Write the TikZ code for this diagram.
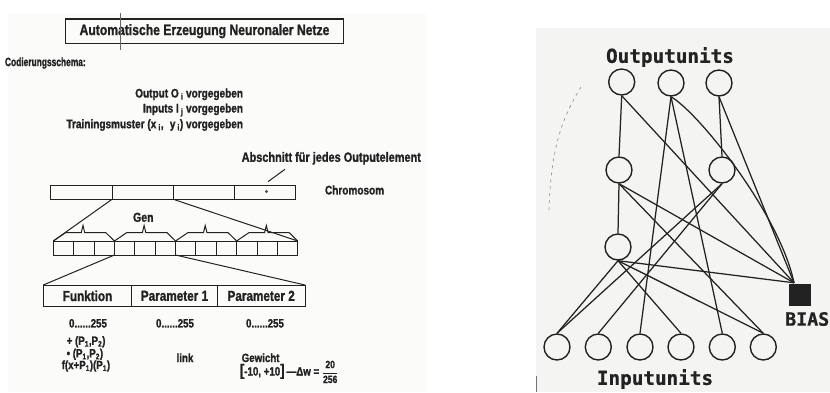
\documentclass[tikz,border=0pt]{standalone}
\usepackage{fontspec}
\setmainfont{Liberation Sans}[FakeStretch=0.81, BoldFeatures={FakeBold=1.3}]
\newfontfamily\condfont{Liberation Sans}[FakeStretch=0.7, BoldFeatures={FakeBold=1.3}]
\newfontfamily\pixfont{DejaVu Sans Mono}[BoldFeatures={FakeBold=0.8}]
\usetikzlibrary{calc}
\definecolor{ink}{HTML}{222222}
\definecolor{paperL}{HTML}{FBFBFA}
\definecolor{paperR}{HTML}{F4F4F3}

\begin{document}
\begin{tikzpicture}[x=1pt,y=-1pt,
  txt/.style={font=\bfseries\fontsize{#1}{#1}\selectfont, text=ink, inner sep=0pt, outer sep=0pt},
  txt/.default=12.4,
  boxline/.style={draw=ink, line width=0.9pt, inner sep=0pt, outer sep=0pt},
  chromcell/.style={boxline, minimum width=61.3pt, minimum height=14.3pt},
  genecell/.style={boxline, minimum width=20.37pt, minimum height=14pt},
  fieldcell/.style={boxline, minimum height=21.7pt, minimum width=#1,
                    font=\bfseries\fontsize{14.5}{14.5}\selectfont, text=ink},
  fan/.style={draw=ink, line width=1pt},
  unit/.style={circle, draw=ink, line width=1.4pt, minimum size=26pt, inner sep=0pt},
  link/.style={draw=ink, line width=1.25pt},
  pix/.style={font=\pixfont\bfseries\fontsize{#1}{#1}\selectfont, text=ink, inner sep=0pt},
  pix/.default=19.3
]
\useasboundingbox (0,0) rectangle (830,392);
\clip (0,0) rectangle (830,392);

% paper backgrounds
\fill[paperL] (8,13) rectangle (426,392);
\fill[paperR] (536,28) rectangle (830,392);
\draw[black!55, line width=0.8pt] (536.5,376) -- (536.5,392);

% ---------------- left: coding scheme ----------------
\node[boxline, line width=1.2pt, minimum width=277.6pt, minimum height=24.3pt,
      txt=15] (title) at (204.5,31.2) {Automatische Erzeugung Neuronaler Netze};
\draw[black!60, line width=0.5pt] (120.7,13) -- (120.7,50);

\node[txt, font=\condfont\bfseries\fontsize{12}{12}\selectfont, anchor=west] (cs) at (5,63) {Codierungsschema:};

\node[txt, anchor=east] (out) at (243,94.3) {Output O\,\textsubscript{i} vorgegeben};
\node[txt, anchor=east] (inp) at (243,110) {Inputs I\,\textsubscript{j} vorgegeben};
\node[txt, anchor=east] (tm) at (243,125) {Trainingsmuster (x\,\textsubscript{i},\enspace y\,\textsubscript{i}) vorgegeben};

\node[txt=13.5, anchor=west] (abs) at (241.7,158.3) {Abschnitt für jedes Outputelement};

% chromosome
\node[chromcell] (c1) at (81.35,192.15) {};
\node[chromcell] (c2) at (142.65,192.15) {};
\node[chromcell] (c3) at (203.95,192.15) {};
\node[chromcell] (c4) at (265.25,192.15) {};
\fill[ink!80] (266.5,191.5) circle (1.6pt);
\coordinate (ptrA) at (285,169.3);
\coordinate (ptrB) at (268,181.7);
\draw[fan] (ptrA) -- (ptrB);
\node[txt, anchor=west] (chrom) at (325,190) {Chromosom};

% genes
\foreach \k in {1,...,12}
  \node[genecell] (g\k) at ({53.3+20.37*(\k-0.5)},248) {};
\foreach \a/\b in {1/3,4/6,7/9,10/12}
  \draw[fan] (g\a.north west) -- ++(12.5,-8.5) -- ++(15.5,0) -- ++(1.7,-7)
             -- ++(1.7,7) -- ++(21,0) -- (g\b.north east);
\node[txt=13] (gen) at (143.3,217.3) {Gen};
\draw[fan] (c2.south west) -- (g1.north west);
\draw[fan] (c2.south east) -- (g12.north east);

% fields of one gene
\node[fieldcell=88.4pt] (f1) at (87.5,295.85) {Funktion};
\node[fieldcell=85.6pt] (f2) at (174.5,295.85) {Parameter 1};
\node[fieldcell=87.7pt] (f3) at (261.15,295.85) {Parameter 2};
\draw[fan] (g4.south west) -- (f1.north west);
\draw[fan] (g6.south east) -- (f3.north east);

\node[txt=12] (r1) at (88,323.3) {0......255};
\node[txt=12] (r2) at (175,323.3) {0......255};
\node[txt=12] (r3) at (265,323.3) {0......255};

\node[txt=12, anchor=west] (fa) at (66.7,341.7) {+ (P\textsubscript{1},P\textsubscript{2})};
\node[txt=12, anchor=west] (fb) at (66.7,354.3) {• (P\textsubscript{1},P\textsubscript{2})};
\node[txt=12, anchor=west] (fc) at (61.7,366) {f(x+P\textsubscript{1})(P\textsubscript{1})};
\node[txt=12] (lk) at (185,357.7) {link};
\node[txt=12, anchor=base west] (gw) at (241.7,362) {Gewicht};
\node[txt=12, anchor=base west] (rng) at (240,375.5)
  {{\fontsize{16}{16}\selectfont[}-10, +10{\fontsize{16}{16}\selectfont]}\,—Δw\ =\ {\fontsize{10.5}{11}\selectfont$\displaystyle\frac{\mbox{20}}{\mbox{256}}$}};

% ---------------- right: network ----------------
\draw[black!45, line width=0.6pt, dash pattern=on 3pt off 4pt]
  (581,87) .. controls (566,112) and (551,140) .. (549,210);

\node[pix] (outlbl) at (670,57) {Outputunits};
\node[pix] (inlbl) at (655,379) {Inputunits};

\node[unit] (O1) at (621.7,82) {};
\node[unit] (O2) at (671,83) {};
\node[unit] (O3) at (719,83) {};
\node[unit] (H1) at (619,170) {};
\node[unit] (H2) at (722,170) {};
\node[unit] (H3) at (618,247) {};
\foreach \i/\x in {1/557,2/598.3,3/640,4/681,5/722.3,6/763.3}
  \node[unit] (I\i) at (\x,347) {};

\node[fill=ink, minimum size=22pt, inner sep=0pt] (B) at (800,295) {};
\node[pix=18.3, anchor=west] (blbl) at (785,319) {BIAS};
\coordinate (bin) at ($(B.north)+(-6,-1)$);

% output layer
\draw[link] (O1.south) -- (H1.north);
\draw[link] (O1.south) -- (bin);
\draw[link] (O2.south) -- (I3.north);
\draw[link] (O2.south) -- (I5.north);
\draw[link] (O2.south) .. controls (700,114) and (780,215) .. (bin);
\draw[link] (O3.south) -- (H2.north);
\draw[link] (O3.south) -- (bin);
% hidden layers
\draw[link] (H1.south) -- (H3.north);
\draw[link] (H1.south) -- (bin);
\draw[link] (H1.south) -- (I6.north);
\draw[link] (H2.south) -- (I1.north);
\draw[link] (H2.south) -- (I2.north);
\draw[link] (H3.south) -- (I1.north);
\draw[link] (H3.south) -- (I4.north);
\draw[link] (H3.south) -- (I6.north);
\draw[link] (H3.south) -- (bin);
\end{tikzpicture}
\end{document}
